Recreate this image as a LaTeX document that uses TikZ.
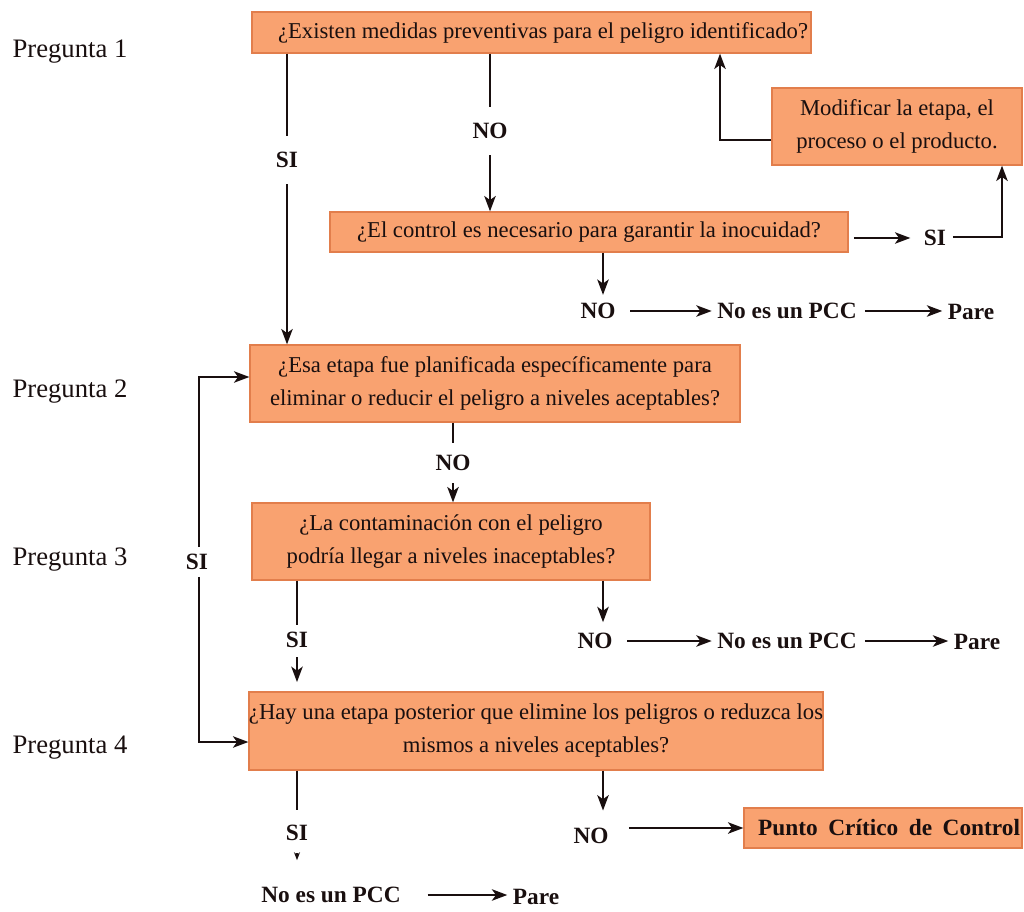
\documentclass[tikz,border=0pt]{standalone}
\usepackage{fontspec}
\setmainfont{Liberation Serif}
\usetikzlibrary{arrows.meta}
\definecolor{boxfill}{RGB}{249,162,112}
\definecolor{boxline}{RGB}{226,126,76}
\definecolor{ink}{RGB}{25,15,15}
\begin{document}
\begin{tikzpicture}[x=0.75pt,y=-0.75pt,
  box/.style={draw=boxline, line width=0.9pt, fill=boxfill, inner sep=0pt, align=center,
              text=ink, font=\fontsize{17}{24.75}\selectfont},
  wh/.style 2 args={minimum width=#1*0.75pt, minimum height=#2*0.75pt},
  lbl/.style={font=\bfseries\fontsize{17.5}{21}\selectfont, inner sep=0pt, text=ink},
  q/.style={font=\fontsize{20}{24}\selectfont, inner sep=0pt, text=ink},
  conn/.style={line width=1.9pt, draw=ink},
  arr/.style={conn, -{Stealth[length=11.5pt,width=8.5pt,inset=3pt]}},
]
\useasboundingbox (0,0) rectangle (1024,912);

% question labels
\node[q] (p1) at (70,52) {Pregunta 1};
\node[q] (p2) at (70,392) {Pregunta 2};
\node[q] (p3) at (70,560) {Pregunta 3};
\node[q] (p4) at (70,748) {Pregunta 4};

% boxes
\node[box, wh={559}{41}, text width=553*0.75pt, inner xsep=3*0.75pt, align=flush right] (b1) at (531.5,32.5)
  {¿Existen medidas preventivas para el peligro identificado?};
\node[box, wh={250}{77}] (mod) at (897,126.5)
  {Modificar la etapa, el\\proceso o el producto.};
\node[box, wh={518}{40}] (b2) at (589,232)
  {¿El control es necesario para garantir la inocuidad?};
\node[box, wh={490}{77}] (b3) at (495,383.5)
  {¿Esa etapa fue planificada específicamente para\\eliminar o reducir el peligro a niveles aceptables?};
\node[box, wh={398}{77}] (b4) at (451,541.5)
  {¿La contaminación con el peligro\\podría llegar a niveles inaceptables?};
\node[box, wh={572}{78}] (b5) at (536,731)
  {¿Hay una etapa posterior que elimine los peligros o reduzca los\\mismos a niveles aceptables?};
\node[box, wh={278}{40}, text width=274*0.75pt, inner xsep=2*0.75pt, align=flush right,
      font=\bfseries\fontsize{17.5}{21}\selectfont] (pcc) at (883,828)
  {\spaceskip=0.45em\relax Punto Crítico de Control};

% answer labels
\node[lbl] (si1) at (287,160) {SI};
\node[lbl] (no1) at (490,131) {NO};
\node[lbl] (si2) at (935,238) {SI};
\node[lbl] (no2) at (598,311) {NO};
\node[lbl] (npcc1) at (787,311) {No es un PCC};
\node[lbl] (pare1) at (971,312) {Pare};
\node[lbl] (no3) at (453,463) {NO};
\node[lbl] (siL) at (197,562) {SI};
\node[lbl] (si4) at (297,640) {SI};
\node[lbl] (no4) at (595,641) {NO};
\node[lbl] (npcc2) at (787,641) {No es un PCC};
\node[lbl] (pare2) at (977,642) {Pare};
\node[lbl] (si5) at (297,833) {SI};
\node[lbl] (no5) at (591,836) {NO};
\node[lbl] (npcc3) at (331,895) {No es un PCC};
\node[lbl] (pare3) at (536,897) {Pare};

% helper coordinates
\coordinate (c1) at (720,140);
\coordinate (c2) at (1002,237);
\coordinate (xd) at (603,0);
\coordinate (xs) at (297,0);
\coordinate (l1) at (199,377);
\coordinate (l2) at (199,742);

% Pregunta 1
\draw[conn, shorten >=12pt] (si1.north |- b1.south) -- (si1.north);
\draw[arr, shorten <=12pt] (si1.south) -- (si1.south |- b3.north);
\draw[conn, shorten >=12pt] (no1.north |- b1.south) -- (no1.north);
\draw[arr, shorten <=12pt] (no1.south) -- (no1.south |- b2.north);
\draw[arr] (mod.west |- c1) -- (c1) -- (c1 |- b1.south);

% control question
\draw[arr, shorten <=4pt, shorten >=10pt] (b2.east |- si2.west) -- (si2.west);
\draw[arr, shorten <=5pt] (si2.east |- c2) -- (c2) -- (c2 |- mod.south);
\draw[arr, shorten >=6pt] (xd |- b2.south) -- (xd |- no2.north);
\draw[arr, shorten <=11pt, shorten >=4pt] (no2.east) -- (npcc1.west);
\draw[arr, shorten <=6pt, shorten >=4pt] (npcc1.east) -- (pare1.west |- npcc1.east);

% Pregunta 2
\draw[conn, shorten >=9pt] (no3.north |- b3.south) -- (no3.north);
\draw[arr, shorten <=9pt] (no3.south) -- (no3.south |- b4.north);
\draw[arr, shorten <=5pt] (siL.north -| l1) -- (l1) -- (b3.west |- l1);
\draw[arr, shorten <=5pt] (siL.south -| l2) -- (l2) -- (b5.west |- l2);

% Pregunta 3
\draw[conn, shorten >=5pt] (xs |- b4.south) -- (xs |- si4.north);
\draw[arr, shorten <=7pt, shorten >=7pt] (xs |- si4.south) -- (xs |- b5.north);
\draw[arr, shorten >=8pt] (xd |- b4.south) -- (xd |- no4.north);
\draw[arr, shorten <=11pt, shorten >=4pt] (no4.east) -- (npcc2.west);
\draw[arr, shorten <=6pt, shorten >=4pt] (npcc2.east) -- (pare2.west |- npcc2.east);

% Pregunta 4
\draw[conn, shorten >=11pt] (xs |- b5.south) -- (xs |- si5.north);
\draw[arr, line width=1.2pt, -{Stealth[length=6pt,width=4.5pt]}, shorten <=9pt, shorten >=20pt] (xs |- si5.south) -- (xs |- npcc3.north);
\draw[arr, shorten >=13pt] (xd |- b5.south) -- (xd |- no5.north);
\draw[arr, shorten <=15pt] (no5.east |- pcc.west) -- (pcc.west);
\draw[arr, shorten <=20pt, shorten >=4pt] (npcc3.east) -- (pare3.west |- npcc3.east);
\end{tikzpicture}
\end{document}
